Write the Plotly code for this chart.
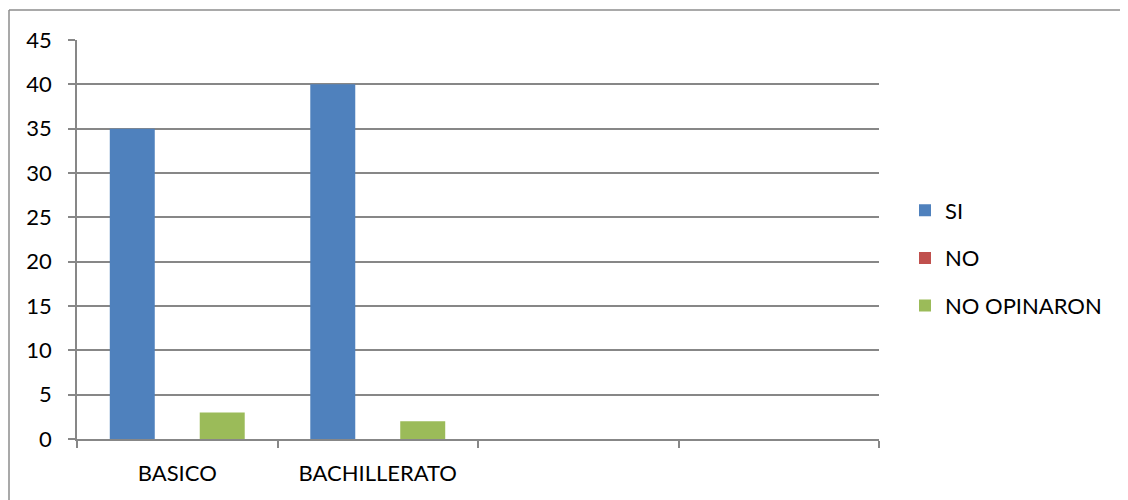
import plotly.graph_objects as go

categories = ["BASICO", "BACHILLERATO", "cat3", "cat4"]
tick_labels = ["BASICO", "BACHILLERATO", "", ""]
si = [35, 40, None, None]
no = [0, 0, None, None]
no_opinaron = [3, 2, None, None]

series = [("SI", si, "#4F81BD"), ("NO", no, "#C0504D"), ("NO OPINARON", no_opinaron, "#9BBB59")]

W, H = 1128, 500
OFF = 8  # page body margin offset
L, R, T, B = 77 - OFF, 879 - OFF, 40 - OFF, 439 - OFF
pw, ph = R - L, B - T

def px_x(x):
    return (x - OFF - L) / pw

def px_y(y):
    return (B - (y - OFF)) / ph

fig = go.Figure()
for i, (name, vals, col) in enumerate(series):
    fig.add_trace(go.Bar(x=categories, y=vals, name=name, marker_color=col,
                         marker_line_width=0, legendgroup=name))

grid = "#878787"
font = dict(family="Lato, Open Sans, sans-serif", size=22, color="#000000")
fig.update_layout(
    width=W, height=H,
    margin=dict(l=L, r=W - R, t=T, b=H - B, pad=0),
    paper_bgcolor="white", plot_bgcolor="white",
    font=font,
    barmode="group", bargap=0.327, bargroupgap=0,
    legend=dict(x=px_x(905), y=px_y(258), xanchor="left", yanchor="middle",
                traceorder="grouped", tracegroupgap=16, font=font,
                bgcolor="rgba(0,0,0,0)"),
    xaxis=dict(type="category", categoryorder="array", categoryarray=categories,
               tickvals=categories, ticktext=tick_labels,
               range=[-0.5, 3.5], tickson="boundaries", ticks="outside", ticklen=7,
               tickcolor=grid, tickwidth=1.5, showline=True, linecolor=grid, linewidth=1.5,
               showgrid=False, ticklabelstandoff=14, fixedrange=True),
    yaxis=dict(range=[0, 45], dtick=5, tick0=0, ticks="outside", ticklen=7,
               tickcolor=grid, tickwidth=1.5, showline=True, linecolor=grid, linewidth=1.5,
               showgrid=True, gridcolor=grid, gridwidth=1.5, zeroline=False,
               ticklabelstandoff=12, fixedrange=True),
    shapes=[
        dict(type="line", xref="paper", yref="paper", x0=px_x(9), x1=px_x(9),
             y0=px_y(10), y1=px_y(520), line=dict(color="#8c8c8c", width=1.5)),
        dict(type="line", xref="paper", yref="paper", x0=px_x(9), x1=px_x(1127.5),
             y0=px_y(10), y1=px_y(10), line=dict(color="#8c8c8c", width=1.5)),
    ],
)

fig.write_html("out.html")
